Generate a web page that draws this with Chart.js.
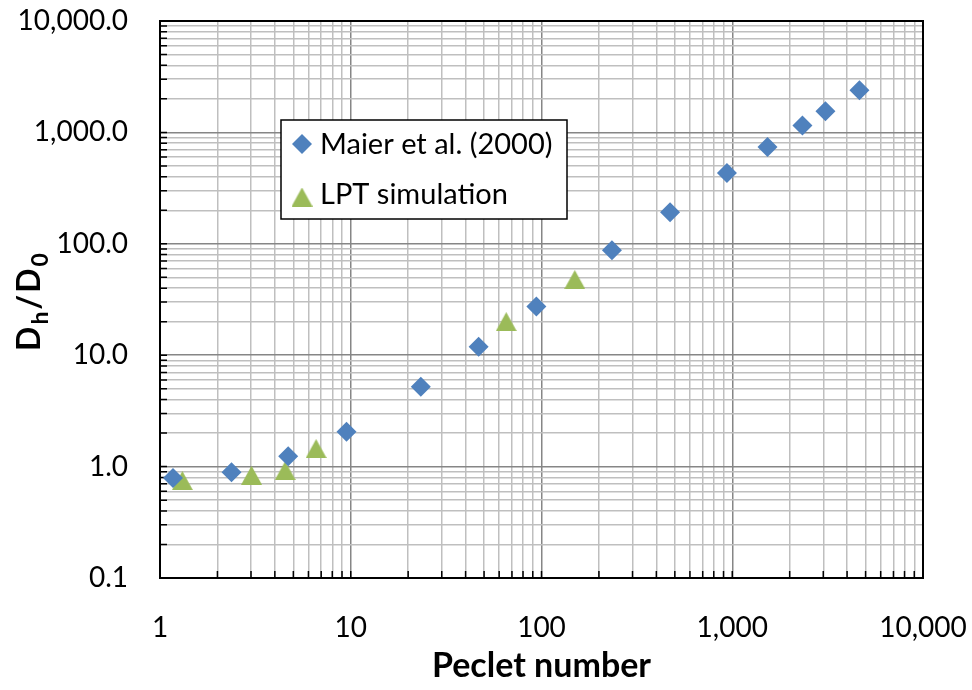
<!DOCTYPE html>
<html>
<head>
<meta charset="utf-8">
<script src="https://cdn.jsdelivr.net/npm/chart.js@4/dist/chart.umd.min.js"></script>
<style>
  html, body { margin: 0; padding: 0; background: #ffffff; }
  #wrap { width: 972px; height: 690px; }
</style>
</head>
<body>
<div id="wrap"><canvas id="chart" width="972" height="690"></canvas></div>
<script>
// Measured dispersion data
const maierPeclet = [1.17, 2.37, 4.7, 9.5, 23.3, 46.8, 94, 234, 472, 938, 1530, 2334, 3080, 4643];
const maierDispersion = [0.79, 0.89, 1.24, 2.06, 5.2, 11.9, 27.3, 87.5, 192, 433, 741, 1151, 1548, 2388];

const lptPeclet = [1.31, 3.02, 4.53, 6.58, 65.3, 149.4];
const lptDispersion = [0.749, 0.836, 0.92, 1.45, 20.0, 47.7];

const seriesNames = ['Maier et al. (2000)', 'LPT simulation'];

// Axis tick labels (one per decade)
const xTickLabels = ['1', '10', '100', '1,000', '10,000'];
const yTickLabels = ['0.1', '1.0', '10.0', '100.0', '1,000.0', '10,000.0'];

const xTitle = 'Peclet number';

const BLUE = '#4F81BD';
const GREEN = '#9BBB59';
const FONT = 'Lato, "Open Sans", sans-serif';

// Triangle marker as a small canvas, centred on its bounding box
function makeTriangle(w, h, color) {
  const c = document.createElement('canvas');
  c.width = w; c.height = h;
  const g = c.getContext('2d');
  g.fillStyle = color;
  g.beginPath();
  g.moveTo(w / 2, 0);
  g.lineTo(w, h);
  g.lineTo(0, h);
  g.closePath();
  g.fill();
  return c;
}
const triangleMarker = makeTriangle(21, 19, GREEN);

function toPoints(xs, ys) {
  return xs.map((x, i) => ({ x: x, y: ys[i] }));
}

// 1..9 x 10^e for every decade, plus the final power of ten
function decadeTicks(loExp, hiExp) {
  const out = [];
  for (let e = loExp; e < hiExp; e++) {
    for (let m = 1; m <= 9; m++) {
      out.push({ value: Number((m * Math.pow(10, e)).toPrecision(12)) });
    }
  }
  out.push({ value: Math.pow(10, hiExp) });
  return out;
}

function isDecade(v) {
  const l = Math.log10(v);
  return Math.abs(l - Math.round(l)) < 1e-6;
}

function decadeLabel(labels, loExp) {
  return function (value) {
    if (!isDecade(value)) return '';
    return labels[Math.round(Math.log10(value)) - loExp] || '';
  };
}

function gridColor(ctx) {
  if (!ctx.tick) return '#BFBFBF';
  return isDecade(ctx.tick.value) ? '#868686' : '#BFBFBF';
}

// Plot frame plus short inward tick marks on the left and bottom axes
const framePlugin = {
  id: 'frame',
  beforeDatasetsDraw(chart) {
    const { ctx, chartArea: a, scales } = chart;
    ctx.save();
    ctx.strokeStyle = '#000000';
    ctx.lineWidth = 1.5;
    ctx.beginPath();
    scales.x.ticks.forEach(t => {
      const px = scales.x.getPixelForValue(t.value);
      ctx.moveTo(px, a.bottom);
      ctx.lineTo(px, a.bottom - 7);
    });
    scales.y.ticks.forEach(t => {
      const py = scales.y.getPixelForValue(t.value);
      ctx.moveTo(a.left, py);
      ctx.lineTo(a.left + 7, py);
    });
    ctx.stroke();
    ctx.lineWidth = 2;
    ctx.strokeRect(a.left, a.top, a.right - a.left, a.bottom - a.top);
    ctx.restore();
  }
};

// Rotated y-axis title with subscripts: D_h / D_0
const yTitlePlugin = {
  id: 'yTitle',
  afterDraw(chart) {
    const { ctx } = chart;
    const parts = [
      { t: 'D', sub: false },
      { t: 'h', sub: true },
      { t: '/', sub: false },
      { t: 'D', sub: false },
      { t: '0', sub: true }
    ];
    const gap = 2;
    const mainFont = 'bold 32px ' + FONT;
    const subFont = 'bold 23px ' + FONT;
    ctx.save();
    let total = 0;
    parts.forEach(p => {
      ctx.font = p.sub ? subFont : mainFont;
      p.w = ctx.measureText(p.t).width;
      total += p.w + gap;
    });
    total -= gap;
    ctx.translate(40, 302);
    ctx.rotate(-Math.PI / 2);
    ctx.fillStyle = '#000000';
    ctx.textBaseline = 'alphabetic';
    ctx.textAlign = 'left';
    let x = -total / 2;
    parts.forEach(p => {
      ctx.font = p.sub ? subFont : mainFont;
      ctx.fillText(p.t, x, p.sub ? 8 : 0);
      x += p.w + gap;
    });
    ctx.restore();
  }
};

// Boxed legend placed inside the plot area
const legendPlugin = {
  id: 'boxLegend',
  afterDatasetsDraw(chart) {
    const { ctx, chartArea: a } = chart;
    const left = a.left + 121, top = a.top + 99, w = 286, h = 99;
    ctx.save();
    ctx.fillStyle = '#ffffff';
    ctx.fillRect(left, top, w, h);
    ctx.strokeStyle = '#000000';
    ctx.lineWidth = 1.5;
    ctx.strokeRect(left, top, w, h);

    ctx.font = '29px ' + FONT;
    ctx.textBaseline = 'alphabetic';
    ctx.textAlign = 'left';

    // diamond entry
    const mx = left + 21, my1 = top + 24, my2 = top + 77;
    ctx.fillStyle = BLUE;
    ctx.beginPath();
    ctx.moveTo(mx - 10, my1);
    ctx.lineTo(mx, my1 - 10);
    ctx.lineTo(mx + 10, my1);
    ctx.lineTo(mx, my1 + 10);
    ctx.closePath();
    ctx.fill();
    ctx.fillStyle = '#000000';
    ctx.fillText(chart.data.datasets[0].label, left + 39, top + 34);

    // triangle entry
    ctx.drawImage(triangleMarker, mx - triangleMarker.width / 2, my2 - triangleMarker.height / 2);
    ctx.fillText(chart.data.datasets[1].label, left + 39, top + 84);
    ctx.restore();
  }
};

// Keep the plot area fixed: no extra room for overhanging edge labels
function noEdgePadding(s) {
  s.paddingLeft = 0; s.paddingRight = 0; s.paddingTop = 0; s.paddingBottom = 0;
}

new Chart(document.getElementById('chart'), {
  type: 'scatter',
  data: {
    datasets: [
      {
        label: seriesNames[0],
        data: toPoints(maierPeclet, maierDispersion),
        pointStyle: 'rectRot',
        pointRadius: 10,
        pointBackgroundColor: BLUE,
        pointBorderColor: BLUE,
        pointBorderWidth: 0,
        showLine: false
      },
      {
        label: seriesNames[1],
        data: toPoints(lptPeclet, lptDispersion),
        pointStyle: triangleMarker,
        pointRadius: 10,
        pointBackgroundColor: GREEN,
        pointBorderWidth: 0,
        showLine: false
      }
    ]
  },
  options: {
    responsive: false,
    devicePixelRatio: 1,
    animation: false,
    events: [],
    layout: { padding: { left: 0, top: 21, right: 49, bottom: 0 } },
    plugins: {
      legend: { display: false },
      tooltip: { enabled: false },
      title: { display: false }
    },
    scales: {
      x: {
        type: 'logarithmic',
        position: 'bottom',
        min: 1,
        max: 10000,
        afterBuildTicks: s => { s.ticks = decadeTicks(0, 4); },
        afterFit: s => { s.height = 112; noEdgePadding(s); },
        grid: { color: gridColor, lineWidth: 1.5, drawTicks: false },
        border: { display: false },
        ticks: {
          autoSkip: false,
          maxRotation: 0,
          minRotation: 0,
          padding: 33,
          color: '#000000',
          font: { family: FONT, size: 28 },
          callback: decadeLabel(xTickLabels, 0)
        },
        title: {
          display: true,
          text: xTitle,
          color: '#000000',
          font: { family: FONT, size: 34, weight: 'bold' },
          padding: { top: 4, bottom: 4 }
        }
      },
      y: {
        type: 'logarithmic',
        position: 'left',
        min: 0.1,
        max: 10000,
        afterBuildTicks: s => { s.ticks = decadeTicks(-1, 4); },
        afterFit: s => { s.width = 160; noEdgePadding(s); },
        grid: { color: gridColor, lineWidth: 1.5, drawTicks: false },
        border: { display: false },
        ticks: {
          autoSkip: false,
          padding: 32,
          color: '#000000',
          font: { family: FONT, size: 28 },
          callback: decadeLabel(yTickLabels, -1)
        }
      }
    }
  },
  plugins: [framePlugin, yTitlePlugin, legendPlugin]
});
</script>
</body>
</html>
